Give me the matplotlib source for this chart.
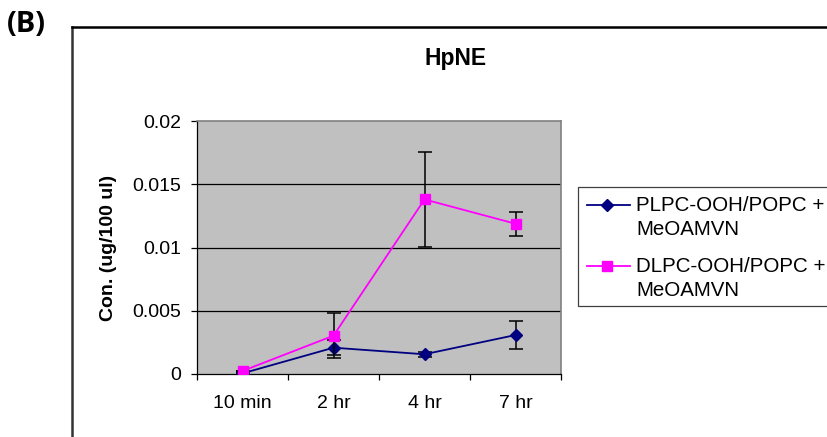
import matplotlib.pyplot as plt
from matplotlib.lines import Line2D
from matplotlib.patches import Rectangle

# data
times = ['10 min', '2 hr', '4 hr', '7 hr']
plpc = [0.00005, 0.00208, 0.00156, 0.00308]
plpc_err = [0.0, 0.00058, 0.0002, 0.00113]
dlpc = [0.00024, 0.00303, 0.0138, 0.01188]
dlpc_err = [0.0, 0.00176, 0.00374, 0.00096]

plpc_label = 'PLPC-OOH/POPC +\nMeOAMVN'
dlpc_label = 'DLPC-OOH/POPC +\nMeOAMVN'

plt.rcParams['font.family'] = ['Liberation Sans', 'DejaVu Sans']

W, H = 827, 437
fig = plt.figure(figsize=(W / 100, H / 100), dpi=100)
ax = fig.add_axes([197 / W, 1 - 374 / H, 364 / W, 253 / H])

x = list(range(len(times)))
ax.set_facecolor('#c0c0c0')
for v in [0.005, 0.01, 0.015]:
    ax.axhline(v, color='black', lw=0.9, zorder=1)

ax.errorbar(x, plpc, yerr=plpc_err, color='#000080', lw=1.3, marker='D', ms=6.5,
            ecolor='black', elinewidth=1.1, capsize=5, capthick=1.1, zorder=3)
ax.errorbar(x, dlpc, yerr=dlpc_err, color='#ff00ff', lw=1.3, marker='s', ms=6.5,
            ecolor='black', elinewidth=1.1, capsize=5, capthick=1.1, zorder=4)

ax.set_xlim(-0.5, len(times) - 0.5)
ax.set_ylim(0, 0.02)
ax.set_yticks([0, 0.005, 0.01, 0.015, 0.02])
ax.set_yticklabels(['0', '0.005', '0.01', '0.015', '0.02'])
ax.set_xticks(x)
ax.set_xticklabels(times)
ax.set_xticks([i - 0.5 for i in range(len(times) + 1)], minor=True)
ax.tick_params(axis='x', which='major', length=0, pad=15, labelsize=14)
ax.tick_params(axis='x', which='minor', length=4.5, width=0.9, direction='out')
ax.tick_params(axis='y', length=4.5, width=0.9, direction='out', pad=7, labelsize=14)

for side in ['top', 'right']:
    ax.spines[side].set_color('#808080')
    ax.spines[side].set_linewidth(1.2)
for side in ['left', 'bottom']:
    ax.spines[side].set_color('black')
    ax.spines[side].set_linewidth(0.9)

ax.set_ylabel('Con. (ug/100 ul)', fontsize=14, fontweight='bold', labelpad=11)

fig.text(456 / W, 1 - 58 / H, 'HpNE', ha='center', va='center',
         fontsize=16.5, fontweight='bold')
fig.text(7 / W, 1 - 24 / H, '(B)', ha='left', va='center',
         fontsize=21, fontweight='bold', family=['Open Sans', 'DejaVu Sans'])

# outer chart frame
fig.add_artist(Line2D([72 / W, 72 / W], [0, 1 - 27 / H], color='#333333', lw=1.8))
fig.add_artist(Line2D([72 / W, 1], [1 - 27 / H, 1 - 27 / H], color='black', lw=1.8))

# legend box
fig.add_artist(Rectangle((578 / W, 1 - 306 / H), 300 / W, 119 / H,
                         transform=fig.transFigure, facecolor='white',
                         edgecolor='#404040', lw=0.9))
for y0, color, mk, label in [(205, '#000080', 'D', plpc_label),
                             (266, '#ff00ff', 's', dlpc_label)]:
    yy = 1 - y0 / H
    fig.add_artist(Line2D([587 / W, 630 / W], [yy, yy], color=color, lw=1.3))
    fig.add_artist(Line2D([607 / W], [yy], color=color, marker=mk, ms=6.5, lw=0))
    fig.text(636 / W, yy + 9 / H, label, ha='left', va='top', fontsize=14.8,
             linespacing=1.32)

fig.savefig('out.png', dpi=100)
